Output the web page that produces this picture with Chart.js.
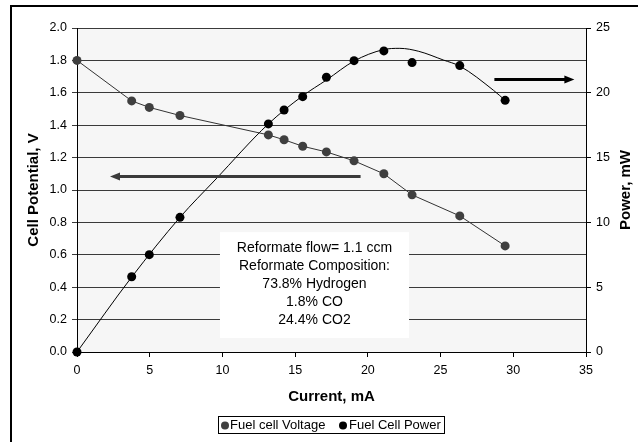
<!DOCTYPE html>
<html>
<head>
<meta charset="utf-8">
<script src="https://cdn.jsdelivr.net/npm/chart.js@4/dist/chart.umd.min.js"></script>
<style>
  html, body { margin: 0; padding: 0; background: #fff; }
  #wrap { width: 638px; height: 442px; position: relative; }
</style>
</head>
<body>
<div id="wrap"><canvas id="c" width="638" height="442"></canvas></div>
<script>
// ---- data ----
const currentMA   = [0, 3.76, 4.97, 7.08, 13.16, 14.24, 15.52, 17.15, 19.05, 21.1, 23.04, 26.32, 29.44];
const voltageV    = [1.80, 1.55, 1.51, 1.46, 1.34, 1.31, 1.27, 1.235, 1.18, 1.10, 0.97, 0.84, 0.655];
const powerMW     = [0, 5.81, 7.51, 10.39, 17.6, 18.67, 19.7, 21.2, 22.48, 23.23, 22.33, 22.1, 19.42];
const trendCurrent = [0, 3.78, 7.08, 9.49, 13.16, 15.5, 17.17, 19.05, 21.07, 22.2, 23.5, 25.19, 26.34, 28.63, 29.44];
const trendPower   = [0, 5.81, 10.39, 13.27, 17.6, 19.75, 21.0, 22.45, 23.33, 23.43, 23.2, 22.53, 22.05, 20.2, 19.42];
const xTicks  = [0, 5, 10, 15, 20, 25, 30, 35];
const vTicks  = [0.0, 0.2, 0.4, 0.6, 0.8, 1.0, 1.2, 1.4, 1.6, 1.8, 2.0];
const pTicks  = [0, 5, 10, 15, 20, 25];
const seriesNames = ['Fuel cell Voltage', 'Fuel Cell Power'];
const noteLines = ['Reformate flow= 1.1 ccm', 'Reformate Composition:', '73.8% Hydrogen', '1.8% CO', '24.4% CO2'];

const FONT = "'Liberation Sans', Arial, Helvetica, sans-serif";
Chart.defaults.font.family = FONT;
Chart.defaults.color = '#000';

const voltagePts = currentMA.map((x, i) => ({x, y: voltageV[i]}));
const powerPts   = currentMA.map((x, i) => ({x, y: powerMW[i]}));
const trendPts   = trendCurrent.map((x, i) => ({x, y: trendPower[i]}));

const decor = {
  id: 'decor',
  beforeDraw(chart) {
    const {ctx, chartArea: a} = chart;
    ctx.save();
    ctx.fillStyle = '#fff';
    ctx.fillRect(0, 0, chart.width, chart.height);
    ctx.fillStyle = '#f6f6f6';
    ctx.fillRect(a.left, a.top, a.right - a.left, a.bottom - a.top);
    ctx.restore();
  },
  beforeDatasetsDraw(chart) {
    const {ctx, scales} = chart;
    const x = scales.x, y = scales.y;
    const l = x.getPixelForValue(9.83), r = x.getPixelForValue(22.83);
    const t = y.getPixelForValue(0.74), b = y.getPixelForValue(0.086);
    ctx.save();
    ctx.fillStyle = '#fff';
    ctx.fillRect(l, t, r - l, b - t);
    ctx.fillStyle = '#000';
    ctx.font = '14px ' + FONT;
    ctx.textAlign = 'center';
    ctx.textBaseline = 'middle';
    const cx = (l + r) / 2;
    noteLines.forEach((s, i) => ctx.fillText(s, cx, t + 16.5 + i * 18));
    ctx.restore();
  },
  afterDatasetsDraw(chart) {
    const {ctx, scales} = chart;
    const x = scales.x, y = scales.y, y2 = scales.y2;
    function arrow(x1, x2, py, color) {
      ctx.save();
      ctx.strokeStyle = color; ctx.fillStyle = color;
      ctx.lineWidth = 3;
      const dir = Math.sign(x2 - x1);
      ctx.beginPath();
      ctx.moveTo(x1, py); ctx.lineTo(x2 - dir * 8, py); ctx.stroke();
      ctx.beginPath();
      ctx.moveTo(x2, py); ctx.lineTo(x2 - dir * 10, py - 4); ctx.lineTo(x2 - dir * 10, py + 4);
      ctx.closePath(); ctx.fill();
      ctx.restore();
    }
    arrow(x.getPixelForValue(19.5), x.getPixelForValue(2.27), Math.round(y.getPixelForValue(1.086)) + 0.5, '#3a3a3a');
    arrow(x.getPixelForValue(28.7), x.getPixelForValue(34.2), Math.round(y2.getPixelForValue(21.04)) + 0.5, '#000');
  },
  afterDraw(chart) {
    const {ctx, chartArea: a} = chart;
    ctx.save();
    // axis titles
    ctx.fillStyle = '#000';
    ctx.font = 'bold 15px ' + FONT;
    ctx.textAlign = 'center';
    ctx.textBaseline = 'middle';
    ctx.fillText('Current, mA', (a.left + a.right) / 2, 397);
    ctx.save();
    ctx.translate(34, (a.top + a.bottom) / 2);
    ctx.rotate(-Math.PI / 2);
    ctx.fillText('Cell Potential, V', 0, 0);
    ctx.restore();
    ctx.save();
    ctx.translate(626, (a.top + a.bottom) / 2);
    ctx.rotate(-Math.PI / 2);
    ctx.fillText('Power, mW', 0, 0);
    ctx.restore();
    // legend
    const ds = chart.data.datasets;
    ctx.strokeStyle = '#000';
    ctx.lineWidth = 1;
    ctx.strokeRect(218.5, 416.5, 226, 17);
    ctx.font = '13px ' + FONT;
    ctx.textAlign = 'left';
    const items = [{dot: 225, txt: 230, d: ds[0]}, {dot: 343, txt: 349, d: ds[1]}];
    items.forEach(it => {
      ctx.fillStyle = it.d.pointBackgroundColor;
      ctx.beginPath(); ctx.arc(it.dot, 425.5, 4, 0, Math.PI * 2); ctx.fill();
      ctx.fillStyle = '#000';
      ctx.fillText(it.d.label, it.txt, 425.5);
    });
    // outer frame (left and top edges visible)
    ctx.fillStyle = '#000';
    ctx.fillRect(10, 5, 2, 437);
    ctx.fillRect(10, 5, 628, 2);
    ctx.restore();
  }
};

new Chart(document.getElementById('c'), {
  type: 'scatter',
  data: {
    datasets: [
      {
        label: seriesNames[0], data: voltagePts, yAxisID: 'y', showLine: true,
        borderColor: '#333', borderWidth: 1, tension: 0, clip: false,
        pointRadius: 4.5, pointBackgroundColor: '#3f3f3f', pointBorderWidth: 0, order: 2
      },
      {
        label: seriesNames[1], data: powerPts, yAxisID: 'y2', showLine: false, clip: false,
        pointRadius: 4.5, pointBackgroundColor: '#000', pointBorderWidth: 0, order: 1
      },
      {
        label: 'trend', data: trendPts, yAxisID: 'y2', showLine: true, clip: false,
        borderColor: '#000', borderWidth: 1, pointRadius: 0,
        cubicInterpolationMode: 'monotone', order: 3
      }
    ]
  },
  options: {
    responsive: false, animation: false, devicePixelRatio: 1,
    layout: { padding: { top: 28, left: 0, right: 0, bottom: 0 } },
    plugins: { legend: { display: false }, tooltip: { enabled: false } },
    scales: {
      x: {
        type: 'linear', min: 0, max: 35,
        afterBuildTicks: s => { s.ticks = xTicks.map(v => ({value: v})); },
        afterFit: s => { s.height = 90; },
        grid: { drawOnChartArea: false, tickLength: 5, color: '#000' },
        border: { color: '#000', width: 1 },
        ticks: { font: { size: 12.5 }, padding: 6, maxRotation: 0 }
      },
      y: {
        type: 'linear', position: 'left', min: 0, max: 2,
        afterBuildTicks: s => { s.ticks = vTicks.map(v => ({value: v})); },
        afterFit: s => { s.width = 77; },
        grid: { drawOnChartArea: true, tickLength: 5, color: '#3a3a3a' },
        border: { color: '#000', width: 1 },
        ticks: { font: { size: 12.5 }, padding: 5, callback: v => Number(v).toFixed(1) }
      },
      y2: {
        type: 'linear', position: 'right', min: 0, max: 25,
        afterBuildTicks: s => { s.ticks = pTicks.map(v => ({value: v})); },
        afterFit: s => { s.width = 52; },
        grid: { drawOnChartArea: false, tickLength: 5, color: '#000' },
        border: { color: '#000', width: 1 },
        ticks: { font: { size: 12.5 }, padding: 5 }
      }
    }
  },
  plugins: [decor]
});
</script>
</body>
</html>
